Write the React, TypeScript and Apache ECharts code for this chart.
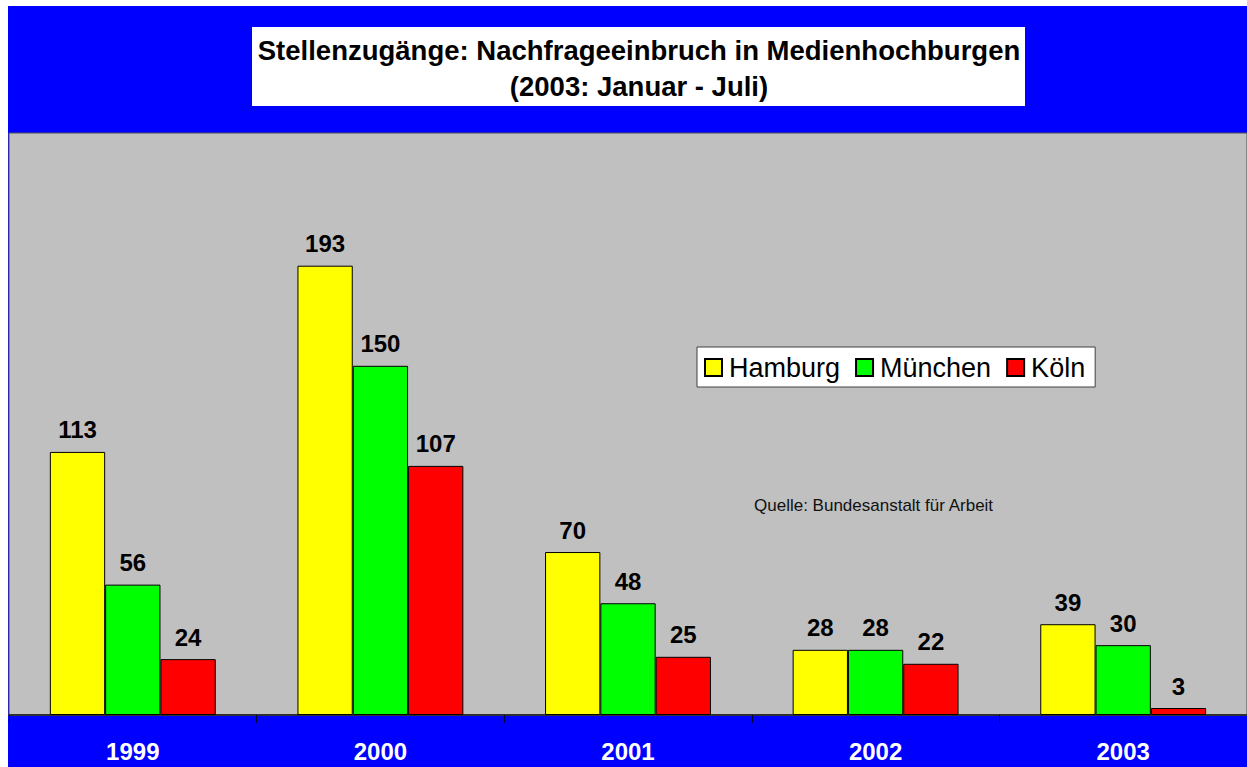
import React, { useEffect, useRef } from "react";
import * as echarts from "echarts";

const years = ["1999", "2000", "2001", "2002", "2003"];
const hamburg = [113, 193, 70, 28, 39];
const muenchen = [56, 150, 48, 28, 30];
const koeln = [24, 107, 25, 22, 3];
const seriesNames = ["Hamburg", "München", "Köln"];
const seriesColors = ["#FFFF00", "#00FF00", "#FF0000"];
const titleLines = ["Stellenzugänge: Nachfrageeinbruch in Medienhochburgen", "(2003: Januar - Juli)"];
const sourceText = "Quelle: Bundesanstalt für Arbeit";

const FONT = "Arial, 'Liberation Sans', Helvetica, sans-serif";

export default function App() {
  const ref = useRef<HTMLDivElement>(null);
  useEffect(() => {
    if (!ref.current) return;
    const chart = echarts.init(ref.current, null, { renderer: "svg" });
    const dataSets = [hamburg, muenchen, koeln];
    chart.setOption({
      animation: false,
      backgroundColor: "#0000FF",
      textStyle: { fontFamily: FONT },
      grid: {
        left: 1,
        right: 0,
        top: 127,
        bottom: 52,
        show: true,
        backgroundColor: "#C0C0C0",
        borderColor: "#505050",
        borderWidth: 1,
      },
      legend: {
        left: 689,
        top: 341,
        backgroundColor: "#FFFFFF",
        borderColor: "#404040",
        borderWidth: 1,
        padding: [7, 10, 6, 7],
        itemWidth: 17,
        itemHeight: 17,
        itemGap: 15,
        icon: "rect",
        textStyle: { fontSize: 27, color: "#000", fontFamily: FONT, padding: [0, 0, 0, 2] },
        data: seriesNames,
      },
      xAxis: {
        type: "category",
        data: years,
        axisLine: { show: true, lineStyle: { color: "#303030", width: 2 } },
        axisTick: { show: true, length: 8, lineStyle: { color: "#000033", width: 1 } },
        axisLabel: {
          color: "#FFFFFF",
          fontSize: 24,
          fontWeight: "bold",
          fontFamily: FONT,
          margin: 24,
        },
      },
      yAxis: {
        type: "value",
        min: 0,
        max: 250,
        show: false,
        splitLine: { show: false },
      },
      series: dataSets.map((d, i) => ({
        name: seriesNames[i],
        type: "bar",
        data: d,
        barGap: "0%",
        barCategoryGap: "33%",
        itemStyle: { color: seriesColors[i], borderColor: "#000", borderWidth: 1 },
        label: {
          show: true,
          position: "top",
          distance: 10,
          color: "#000",
          fontSize: 24,
          fontWeight: "bold",
          fontFamily: FONT,
        },
      })),
      graphic: [
        {
          type: "rect",
          left: 244,
          top: 21,
          shape: { width: 773, height: 79 },
          style: { fill: "#FFFFFF" },
        },
        {
          type: "text",
          x: 631,
          y: 44,
          style: {
            text: titleLines[0],
            fill: "#000",
            font: `bold 27.5px ${FONT}`,
            textAlign: "center",
            textVerticalAlign: "middle",
          },
        },
        {
          type: "text",
          x: 631,
          y: 80,
          style: {
            text: titleLines[1],
            fill: "#000",
            font: `bold 27.5px ${FONT}`,
            textAlign: "center",
            textVerticalAlign: "middle",
          },
        },
        {
          type: "text",
          x: 746,
          y: 499,
          style: {
            text: sourceText,
            fill: "#111",
            font: `17px ${FONT}`,
            textAlign: "left",
            textVerticalAlign: "middle",
          },
        },
      ],
    });
    return () => chart.dispose();
  }, []);
  return (
    <div
      ref={ref}
      style={{ position: "fixed", left: 8, top: 6, width: 1239, height: 761 }}
    />
  );
}
